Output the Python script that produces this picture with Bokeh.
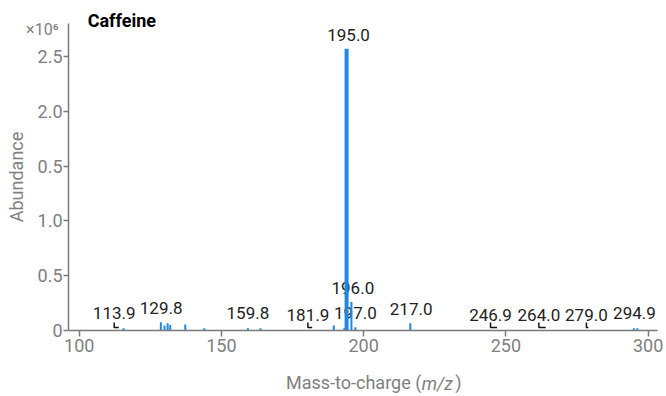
from bokeh.plotting import figure
from bokeh.models import FixedTicker, Range1d, ColumnDataSource, LinearAxis
from bokeh.core.properties import value
from bokeh.embed import file_html
from bokeh.resources import INLINE

# ---------------- data ----------------
title_text = "Caffeine"
x_title_parts = ["Mass-to-charge (", "m/z", ")"]
y_title = "Abundance"
y_scale_text = "×10⁶"

# peaks (m/z, abundance in units of 10^6)
peak_mz = [115.6, 128.7, 130.0, 131.1, 132.0, 137.3, 144.0, 159.3, 163.7,
           189.5, 193.2, 194.0, 195.7, 197.1, 216.4, 295.0, 296.2]
peak_abundance = [0.02, 0.075, 0.045, 0.065, 0.05, 0.055, 0.02, 0.02, 0.02,
                  0.045, 0.02, 2.57, 0.26, 0.03, 0.065, 0.02, 0.02]

# peak annotations
label_text = ["113.9", "129.8", "159.8", "181.9", "195.0", "196.0", "197.0",
              "217.0", "246.9", "264.0", "279.0", "294.9"]
label_mz = [112.3, 128.8, 159.3, 180.4, 194.7, 196.2, 197.1,
            216.7, 244.6, 261.6, 278.3, 295.2]
label_level = [0.157, 0.203, 0.157, 0.144, 2.694, 0.389, 0.157,
               0.194, 0.139, 0.139, 0.139, 0.157]

# leader lines from a shifted label to its peak
leader_label_mz = [112.3, 180.4, 244.6, 261.6, 278.3]
leader_peak_mz = [113.9, 181.9, 246.9, 264.0, 279.0]

x_ticks = [100, 150, 200, 250, 300]
y_ticks = [0, 0.5, 1.0, 1.5, 2.0, 2.5]
y_tick_labels = ["0", "0.5", "1.0", "0.5", "2.0", "2.5"]

# anchor positions of the texts placed around the frame
title_anchor = 115.0          # m/z
y_scale_anchor = 2.742        # abundance (x10^6)
x_title_anchor = [196.5, 225.9, 233.3]   # m/z

# ---------------- styling ----------------
FONT = "Roboto"
AXIS_COLOR = "#7a7a7a"
TICK_TEXT = "#808080"
PEAK_COLOR = "#1e88e5"
LABEL_COLOR = "#222222"

W, H = 666, 396
p = figure(width=W, height=H, output_backend="svg", toolbar_location=None,
           x_range=Range1d(96.24, 303.3), y_range=Range1d(0, 2.8),
           min_border_left=68, min_border_right=9, min_border_top=23,
           min_border_bottom=66)
p.outline_line_color = None
p.grid.visible = False
p.background_fill_color = "white"
p.border_fill_color = "white"

for ax in (p.xaxis, p.yaxis):
    ax.axis_line_color = AXIS_COLOR
    ax.axis_line_width = 1.5
    ax.major_tick_line_color = AXIS_COLOR
    ax.major_tick_line_width = 1.5
    ax.minor_tick_line_color = None
    ax.major_tick_in = 0
    ax.major_label_text_font = FONT
    ax.major_label_text_font_size = "18px"
    ax.major_label_text_color = TICK_TEXT
    ax.axis_label_text_font = FONT
    ax.axis_label_text_font_size = "18px"
    ax.axis_label_text_font_style = "normal"
    ax.axis_label_text_color = TICK_TEXT

p.xaxis.ticker = FixedTicker(ticks=x_ticks)
p.xaxis.major_tick_out = 6
p.xaxis.major_label_standoff = 2
p.yaxis.ticker = FixedTicker(ticks=y_ticks)
p.yaxis.major_label_overrides = {t: s for t, s in zip(y_ticks, y_tick_labels)}
p.yaxis.major_tick_out = 5
p.yaxis.major_label_standoff = 1
p.yaxis.axis_label = y_title
p.yaxis.axis_label_standoff = 8


def text_axis(side, ticks, labels, size, standoff, style="normal",
              color=TICK_TEXT):
    ax = LinearAxis(ticker=FixedTicker(ticks=ticks),
                    major_label_overrides=dict(zip(ticks, labels)))
    ax.axis_line_color = None
    ax.major_tick_line_color = None
    ax.minor_tick_line_color = None
    ax.major_tick_out = 0
    ax.major_tick_in = 0
    ax.major_label_standoff = standoff
    ax.major_label_text_font = FONT
    ax.major_label_text_font_size = size
    ax.major_label_text_font_style = style
    ax.major_label_text_color = color
    p.add_layout(ax, side)


# chart title above the frame
text_axis("above", [title_anchor], [title_text], "18px", -7,
          style="bold", color="black")
# scale factor at the top of the y axis
text_axis("left", [y_scale_anchor], [y_scale_text], "16px", -56)
# x axis title below the tick labels
text_axis("below", [x_title_anchor[0], x_title_anchor[2]],
          [x_title_parts[0], x_title_parts[2]], "18px", 17)
text_axis("below", [x_title_anchor[1]], [x_title_parts[1]], "18px", -23,
          style="italic")

# labels first (peaks drawn over them)
lab_src = ColumnDataSource(dict(x=label_mz, y=label_level, t=label_text))
p.text(x="x", y="y", text="t", source=lab_src, text_align="center",
       text_baseline="middle", text_font=value(FONT), text_font_size="17px",
       text_color=LABEL_COLOR)

# leader lines
lead_top, lead_bot = 0.073, 0.027
p.multi_line(xs=[[a, a, b] for a, b in zip(leader_label_mz, leader_peak_mz)],
             ys=[[lead_top, lead_bot, lead_bot] for _ in leader_label_mz],
             line_color="#111111", line_width=1.5)

# peaks
imax = peak_abundance.index(max(peak_abundance))
small_x = [m for i, m in enumerate(peak_mz) if i != imax]
small_y = [a for i, a in enumerate(peak_abundance) if i != imax]
p.segment(x0=small_x, y0=[0] * len(small_x), x1=small_x, y1=small_y,
          line_color=PEAK_COLOR, line_width=2)
p.segment(x0=[peak_mz[imax]], y0=[0], x1=[peak_mz[imax]], y1=[peak_abundance[imax]],
          line_color=PEAK_COLOR, line_width=4)

open("out.html", "w").write(file_html(p, INLINE))
